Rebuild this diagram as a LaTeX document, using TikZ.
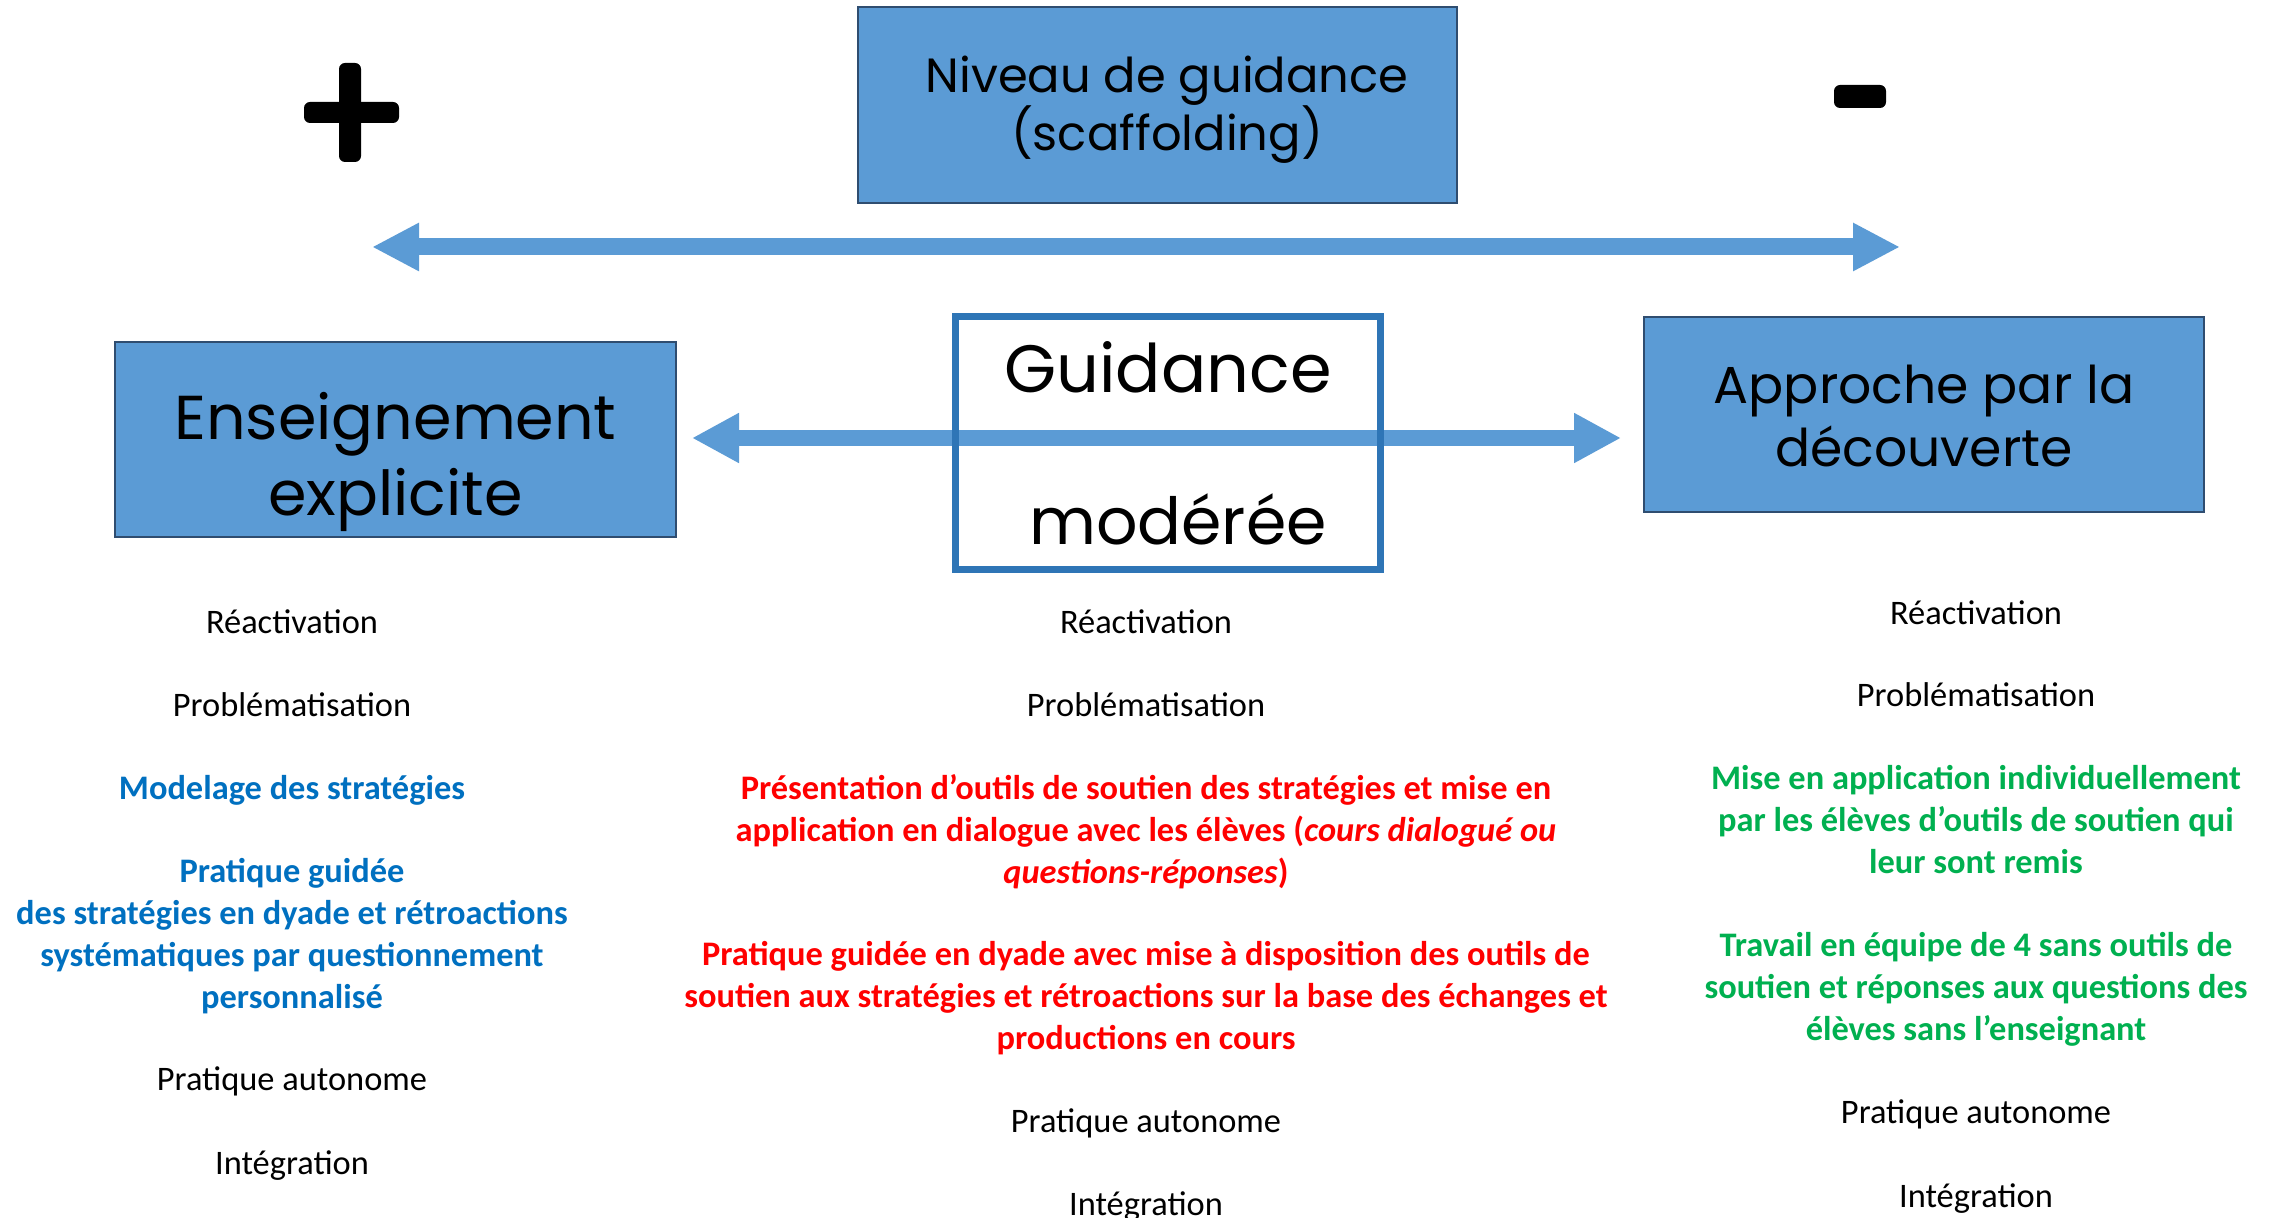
\documentclass[tikz,border=0pt]{standalone}
\usepackage{fontspec}
\setmainfont{Carlito}
\newfontfamily\gothic{Poppins}
\usetikzlibrary{arrows.meta}
\definecolor{boxblue}{HTML}{5B9BD5}
\definecolor{boxedge}{HTML}{2F4D70}
\definecolor{midedge}{HTML}{2E75B6}
\definecolor{txtblue}{HTML}{0070C0}
\definecolor{txtred}{HTML}{FF0000}
\definecolor{txtgreen}{HTML}{00B050}
\begin{document}
\begin{tikzpicture}[x=0.5pt,y=-0.5pt,
  bluebox/.style={draw=boxedge, line width=1pt, fill=boxblue, inner sep=0pt},
  boxtext/.style={align=center, inner sep=0pt},
  body/.style={align=center, inner sep=0pt, font=\fontsize{17.2}{21}\selectfont},
  bodyb/.style={align=center, inner sep=0pt, font=\fontsize{17.2}{21}\selectfont\bfseries},
  bigarrow/.style={draw=boxblue, line width=8.5pt,
     {Triangle[length=23.5pt,width=22.5pt]}-{Triangle[length=23.5pt,width=22.5pt]}},
  midarrow/.style={draw=boxblue, line width=8pt,
     {Triangle[length=23.5pt,width=23.5pt]}-{Triangle[length=23.5pt,width=23.5pt]}}]
\useasboundingbox[fill=white] (0,0) rectangle (2280,1218);

% plus and minus
\fill[black, rounded corners=3pt] (339,63) rectangle (361,162);
\fill[black, rounded corners=3pt] (304,102) rectangle (399,123);
\fill[black, rounded corners=3pt] (1834,85) rectangle (1886,108);

% top box
\node[bluebox, minimum width=299.5pt, minimum height=98pt] (top) at (1157.5,105) {};
\node[boxtext, font=\gothic\fontsize{24}{29}\selectfont] (toptxt) at (1167,110) {Niveau de guidance\\(scaffolding)};

% top arrow
\coordinate (ta) at (372,247);
\coordinate (tb) at (1900,247);
\draw[bigarrow] (ta) -- (tb);

% side boxes
\node[bluebox, minimum width=280.5pt, minimum height=97.5pt] (left) at (395.5,439.5) {};
\node[boxtext, font=\gothic\fontsize{31}{38}\selectfont] (lefttxt) at (395.5,461.5) {Enseignement\\explicite};
\node[bluebox, minimum width=280pt, minimum height=97.5pt] (right) at (1924,414.5) {};
\node[boxtext, font=\gothic\fontsize{26}{31.5}\selectfont] (righttxt) at (1924,416) {Approche par la\\découverte};

% middle arrow
\coordinate (ma) at (692,438);
\coordinate (mb) at (1621,438);
\draw[midarrow] (ma) -- (mb);

% middle box
\node[draw=midedge, line width=3.5pt, minimum width=212.5pt, minimum height=126.5pt, inner sep=0pt] (mid) at (1167.5,443.5) {};
\node[anchor=base, inner sep=0pt, font=\gothic\fontsize{33.5}{40}\selectfont] (g1) at (1168,393) {Guidance};
\node[anchor=base, inner sep=0pt, font=\gothic\fontsize{32.5}{40}\selectfont] (g2) at (1178,545) {modérée};

% left column
\node[body, anchor=base] (l1) at (292,634) {Réactivation};
\node[body, anchor=base] (l2) at (292,717) {Problématisation};
\node[bodyb, anchor=base, text=txtblue] (l3) at (292,799) {Modelage des stratégies};
\node[bodyb, text=txtblue] (l4) at (292,936.5) {Pratique guidée\\des stratégies en dyade et rétroactions\\systématiques par questionnement\\personnalisé};
\node[body, anchor=base] (l5) at (292,1090) {Pratique autonome};
\node[body, anchor=base] (l6) at (292,1174) {Intégration};

% middle column
\node[body, anchor=base] (m1) at (1146,634) {Réactivation};
\node[body, anchor=base] (m2) at (1146,717) {Problématisation};
\node[bodyb, text=txtred] (m3) at (1146,832) {Présentation d’outils de soutien des stratégies et mise en\\application en dialogue avec les élèves (\textit{cours dialogué ou}\\\textit{questions-réponses})};
\node[bodyb, text=txtred] (m4) at (1146,998.5) {Pratique guidée en dyade avec mise à disposition des outils de\\soutien aux stratégies et rétroactions sur la base des échanges et\\productions en cours};
\node[body, anchor=base] (m5) at (1146,1132) {Pratique autonome};
\node[body, anchor=base] (m6) at (1146,1215) {Intégration};

% right column
\node[body, anchor=base] (r1) at (1976,625) {Réactivation};
\node[body, anchor=base] (r2) at (1976,707) {Problématisation};
\node[bodyb, text=txtgreen] (r3) at (1976,820) {Mise en application individuellement\\par les élèves d’outils de soutien qui\\leur sont remis};
\node[bodyb, text=txtgreen] (r4) at (1976,989.5) {Travail en équipe de 4 sans outils de\\soutien et réponses aux questions des\\élèves sans l’enseignant};
\node[body, anchor=base] (r5) at (1976,1123) {Pratique autonome};
\node[body, anchor=base] (r6) at (1976,1207) {Intégration};
\end{tikzpicture}
\end{document}
